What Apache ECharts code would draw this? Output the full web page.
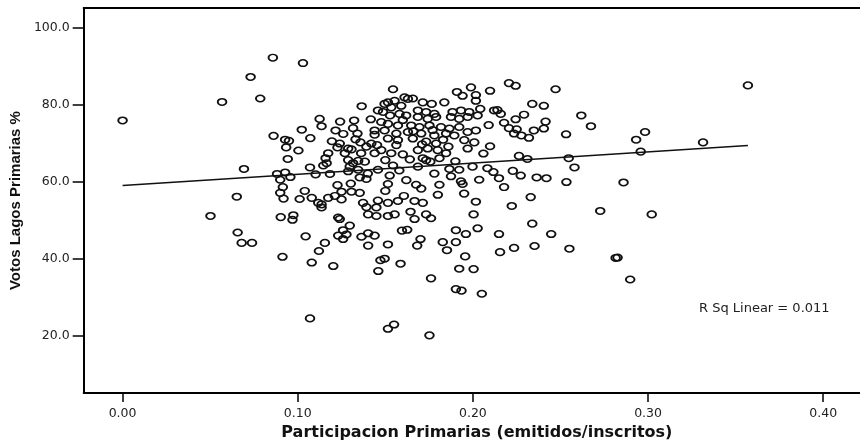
<!DOCTYPE html>
<html><head><meta charset="utf-8">
<script src="https://cdn.jsdelivr.net/npm/echarts@6/dist/echarts.min.js"></script>
<style>html,body{margin:0;padding:0;background:#fff}#c{width:860px;height:446px}</style>
</head><body><div id="c"></div>
<script>
// Participacion Primarias (x) vs Votos Lagos Primarias % (y)
const puntos = [
[0.000,75.8],[0.0568,80.6],[0.0731,87.1],[0.0786,81.5],[0.0858,92.1],[0.0862,71.8],[0.0693,63.2],[0.0652,56.0],
[0.0502,51.0],[0.1030,90.7],[0.0657,46.7],[0.0680,44.0],[0.0739,44.0],[0.0913,40.4],[0.0903,50.7],[0.0975,51.2],
[0.0970,50.0],[0.0928,70.8],[0.0950,70.5],[0.0934,68.8],[0.1004,68.0],[0.0943,65.8],[0.1023,73.4],[0.0882,61.9],
[0.0928,62.3],[0.0958,61.1],[0.0900,60.4],[0.0915,58.5],[0.0900,57.0],[0.0919,55.5],[0.1011,55.4],[0.1040,57.5],
[0.1365,79.5],[0.1458,78.4],[0.1125,76.2],[0.1136,74.3],[0.1242,75.5],[0.1322,75.8],[0.1316,73.8],[0.1216,73.2],
[0.1417,76.1],[0.1439,73.2],[0.1439,72.1],[0.1341,72.4],[0.1072,71.2],[0.1070,63.6],[0.1102,61.8],[0.1184,61.9],
[0.1195,70.4],[0.1240,69.8],[0.1227,68.8],[0.1288,68.5],[0.1307,68.3],[0.1269,67.3],[0.1358,70.1],[0.1392,69.0],
[0.1420,69.8],[0.1453,69.4],[0.1362,67.3],[0.1439,67.3],[0.1174,67.3],[0.1159,66.0],[0.1165,64.7],[0.1146,64.1],
[0.1288,65.5],[0.1316,64.7],[0.1345,65.3],[0.1383,65.1],[0.1297,63.8],[0.1288,62.6],[0.1345,63.0],[0.1458,63.0],
[0.1354,61.0],[0.1392,60.6],[0.1227,59.0],[0.1303,59.4],[0.1250,57.3],[0.1307,57.3],[0.1354,57.0],[0.1174,55.7],
[0.1212,56.2],[0.1250,55.3],[0.1117,54.4],[0.1136,54.0],[0.1080,55.7],[0.1373,54.4],[0.1392,53.3],[0.1449,53.2],
[0.1458,55.0],[0.1231,50.6],[0.1402,51.4],
[0.1544,83.9],[0.2206,85.5],[0.2244,84.8],[0.2472,83.9],[0.1989,84.4],[0.2017,82.4],[0.1909,83.2],[0.1941,82.2],
[0.2098,83.5],[0.2017,80.9],[0.1837,80.5],[0.1610,81.8],[0.1629,81.4],[0.1657,81.5],[0.1714,80.5],[0.1765,80.1],
[0.1553,80.9],[0.1496,80.1],[0.1534,79.2],[0.1591,79.6],[0.1686,78.4],[0.1733,78.0],[0.1780,77.5],[0.1884,78.0],
[0.1932,78.4],[0.1979,78.0],[0.2042,78.8],[0.2121,78.4],[0.2140,78.5],[0.2339,80.1],[0.2405,79.6],[0.2159,77.5],
[0.2292,77.3],[0.2244,76.1],[0.2178,75.2],[0.2206,73.8],[0.2250,73.5],[0.2235,72.4],[0.2277,71.9],[0.2320,71.3],
[0.2348,73.2],[0.2405,73.7],[0.2415,75.5],[0.1487,78.0],[0.1477,75.4],[0.1527,77.1],[0.1581,77.5],[0.1619,77.1],
[0.1686,76.7],[0.1742,76.2],[0.1790,76.7],[0.1875,76.7],[0.1922,76.2],[0.1970,76.7],[0.2027,77.1],[0.1515,74.9],
[0.1572,74.5],[0.1648,74.5],[0.1695,74.1],[0.1752,74.5],[0.1818,74.1],[0.1866,73.7],[0.1922,74.1],[0.2017,73.2],
[0.1970,72.8],[0.1496,73.2],[0.1563,72.4],[0.1629,72.8],[0.1705,72.4],[0.1780,71.9],[0.1847,72.4],[0.1894,71.9],
[0.1951,70.7],[0.2008,70.1],[0.1515,71.1],[0.1572,70.7],[0.1657,71.1],[0.1733,70.3],[0.1790,69.8],[0.1563,69.4],
[0.1686,68.1],[0.1742,68.5],[0.1799,68.1],[0.1847,67.3],[0.1970,68.5],[0.1477,68.1],[0.1534,67.3],[0.1600,67.0],
[0.1714,66.0],[0.1733,65.5],[0.1757,65.1],[0.1809,66.0],[0.2098,69.1],[0.2263,66.6],[0.2311,65.8],[0.1544,64.1],
[0.1686,63.8],[0.1866,63.2],[0.1922,63.0],[0.1998,63.8],[0.2083,63.4],[0.2117,62.4],[0.2149,60.8],[0.2228,62.7],
[0.2273,61.5],[0.2364,61.0],[0.2420,60.8],[0.1875,61.3],[0.1932,60.0],[0.1941,59.3],[0.2036,60.4],[0.1809,59.1],
[0.2178,58.5],[0.1525,61.5],[0.1515,59.3],[0.1676,59.1],[0.1705,58.1],[0.1606,56.2],[0.1572,54.9],[0.1515,54.4],
[0.1667,54.9],[0.1714,54.4],[0.2017,54.7],[0.2330,55.9],[0.2222,53.6],[0.1515,80.5],
[0.1515,51.0],[0.1553,51.4],[0.1644,52.1],[0.1667,50.2],[0.1733,51.4],[0.1761,50.4],[0.2004,51.4],[0.1595,47.2],
[0.1625,47.4],[0.1701,45.0],[0.1682,43.3],[0.1515,43.6],[0.1496,39.9],[0.1460,36.7],[0.1587,38.6],[0.1903,47.3],
[0.1960,46.3],[0.2027,47.8],[0.1828,44.2],[0.1903,44.2],[0.1852,42.1],[0.1956,40.5],[0.1922,37.3],[0.2004,37.2],
[0.1761,34.8],[0.1903,32.0],[0.1935,31.6],[0.2051,30.8],[0.2149,46.3],[0.2155,41.6],[0.2235,42.7],[0.2339,49.0],
[0.2352,43.2],[0.2447,46.3],[0.1550,22.8],[0.1515,21.7],[0.1752,20.0],
[0.1136,53.2],[0.1240,50.2],[0.1297,48.5],[0.1259,47.3],[0.1231,45.9],[0.1259,45.0],[0.1278,46.2],[0.1045,45.7],
[0.1155,44.0],[0.1121,41.9],[0.1080,38.9],[0.1203,38.0],[0.1070,24.4],[0.1364,45.6],[0.1402,46.5],[0.1439,45.9],
[0.1402,43.3],[0.1449,51.0],[0.1472,39.5],
[0.2619,77.1],[0.2674,74.3],[0.2532,72.2],[0.2932,70.8],[0.2983,72.8],[0.3314,70.1],[0.2958,67.7],[0.2547,66.0],
[0.2580,63.6],[0.2534,59.8],[0.2860,59.7],[0.2727,52.3],[0.3021,51.4],[0.2551,42.5],[0.2826,40.2],[0.2815,40.1],
[0.2898,34.5],[0.3570,84.9],
[0.1600,75.9],[0.1660,73.0],[0.1710,69.6],[0.1770,73.3],[0.1830,70.8],[0.1860,69.0],[0.1900,65.2],[0.1640,65.7],
[0.1580,62.8],[0.1620,60.3],[0.1780,62.0],[0.1500,65.5],[0.1400,62.0],[0.1330,70.9],[0.1260,72.3],[0.1500,57.5],
[0.1800,56.5],[0.1950,56.8],[0.2060,67.2],[0.2090,74.6]
];
// fitted linear regression line endpoints
const ajusteX = [0, 0.357];
const ajusteY = [58.9, 69.3];
const xTicks = [0, 0.1, 0.2, 0.3, 0.4];
const yTicks = [20, 40, 60, 80, 100];
const rSqText = 'R Sq Linear = 0.011';

const chart = echarts.init(document.getElementById('c'), null, {renderer: 'canvas'});
const ellipse = 'path://M1,0C1,0.552,0.552,1,0,1C-0.552,1,-1,0.552,-1,0C-1,-0.552,-0.552,-1,0,-1C0.552,-1,1,-0.552,1,0Z';
const tickFont = {fontFamily: 'DejaVu Sans', fontSize: 12.5, color: '#222'};
chart.setOption({
  animation: false,
  backgroundColor: '#fff',
  grid: {left: 81, right: 0, top: 8, bottom: 48.5, containLabel: false},
  xAxis: [{
    type: 'value', min: -0.0222, max: 0.421, position: 'bottom',
    name: 'Participacion Primarias (emitidos/inscritos)', nameLocation: 'middle', nameGap: 30,
    nameTextStyle: {fontFamily: 'DejaVu Sans', fontWeight: 'bold', fontSize: 16, color: '#111', padding: [0,0,0,10]},
    axisLine: {show: true, onZero: false, lineStyle: {color: '#000', width: 2}},
    axisTick: {show: true, length: 9, customValues: xTicks, lineStyle: {color: '#000', width: 1.5}},
    axisLabel: Object.assign({customValues: xTicks, margin: 14, formatter: v => v.toFixed(2)}, tickFont),
    splitLine: {show: false}
  }, {
    type: 'value', min: -0.0222, max: 0.421, position: 'top',
    axisLine: {show: true, onZero: false, lineStyle: {color: '#000', width: 2}},
    axisTick: {show: false}, axisLabel: {show: false}, splitLine: {show: false}
  }],
  yAxis: {
    type: 'value', min: 5, max: 105,
    name: 'Votos Lagos Primarias %', nameLocation: 'middle', nameGap: 58, nameRotate: 90,
    nameTextStyle: {fontFamily: 'Liberation Sans', fontWeight: 'bold', fontSize: 15, color: '#111'},
    axisLine: {show: true, onZero: false, lineStyle: {color: '#000', width: 2}},
    axisTick: {show: true, length: 11, customValues: yTicks, lineStyle: {color: '#000', width: 1.5}},
    axisLabel: Object.assign({customValues: yTicks, margin: 14, formatter: v => v.toFixed(1)}, tickFont),
    splitLine: {show: false}
  },
  series: [{
    type: 'scatter', xAxisIndex: 0, data: puntos, symbol: ellipse, symbolSize: [8.6, 6.6],
    itemStyle: {color: 'rgba(255,255,255,0)', borderColor: '#111', borderWidth: 1.7, opacity: 1},
    emphasis: {disabled: true}, silent: true
  }, {
    type: 'line', xAxisIndex: 0, data: ajusteX.map((x, i) => [x, ajusteY[i]]), showSymbol: false,
    lineStyle: {color: '#111', width: 1.4}, silent: true, z: 3
  }],
  graphic: [{
    type: 'text', left: 699, top: 302,
    style: {text: rSqText, fontFamily: 'DejaVu Sans', fontSize: 13, fill: '#222'}
  }]
});
</script></body></html>
